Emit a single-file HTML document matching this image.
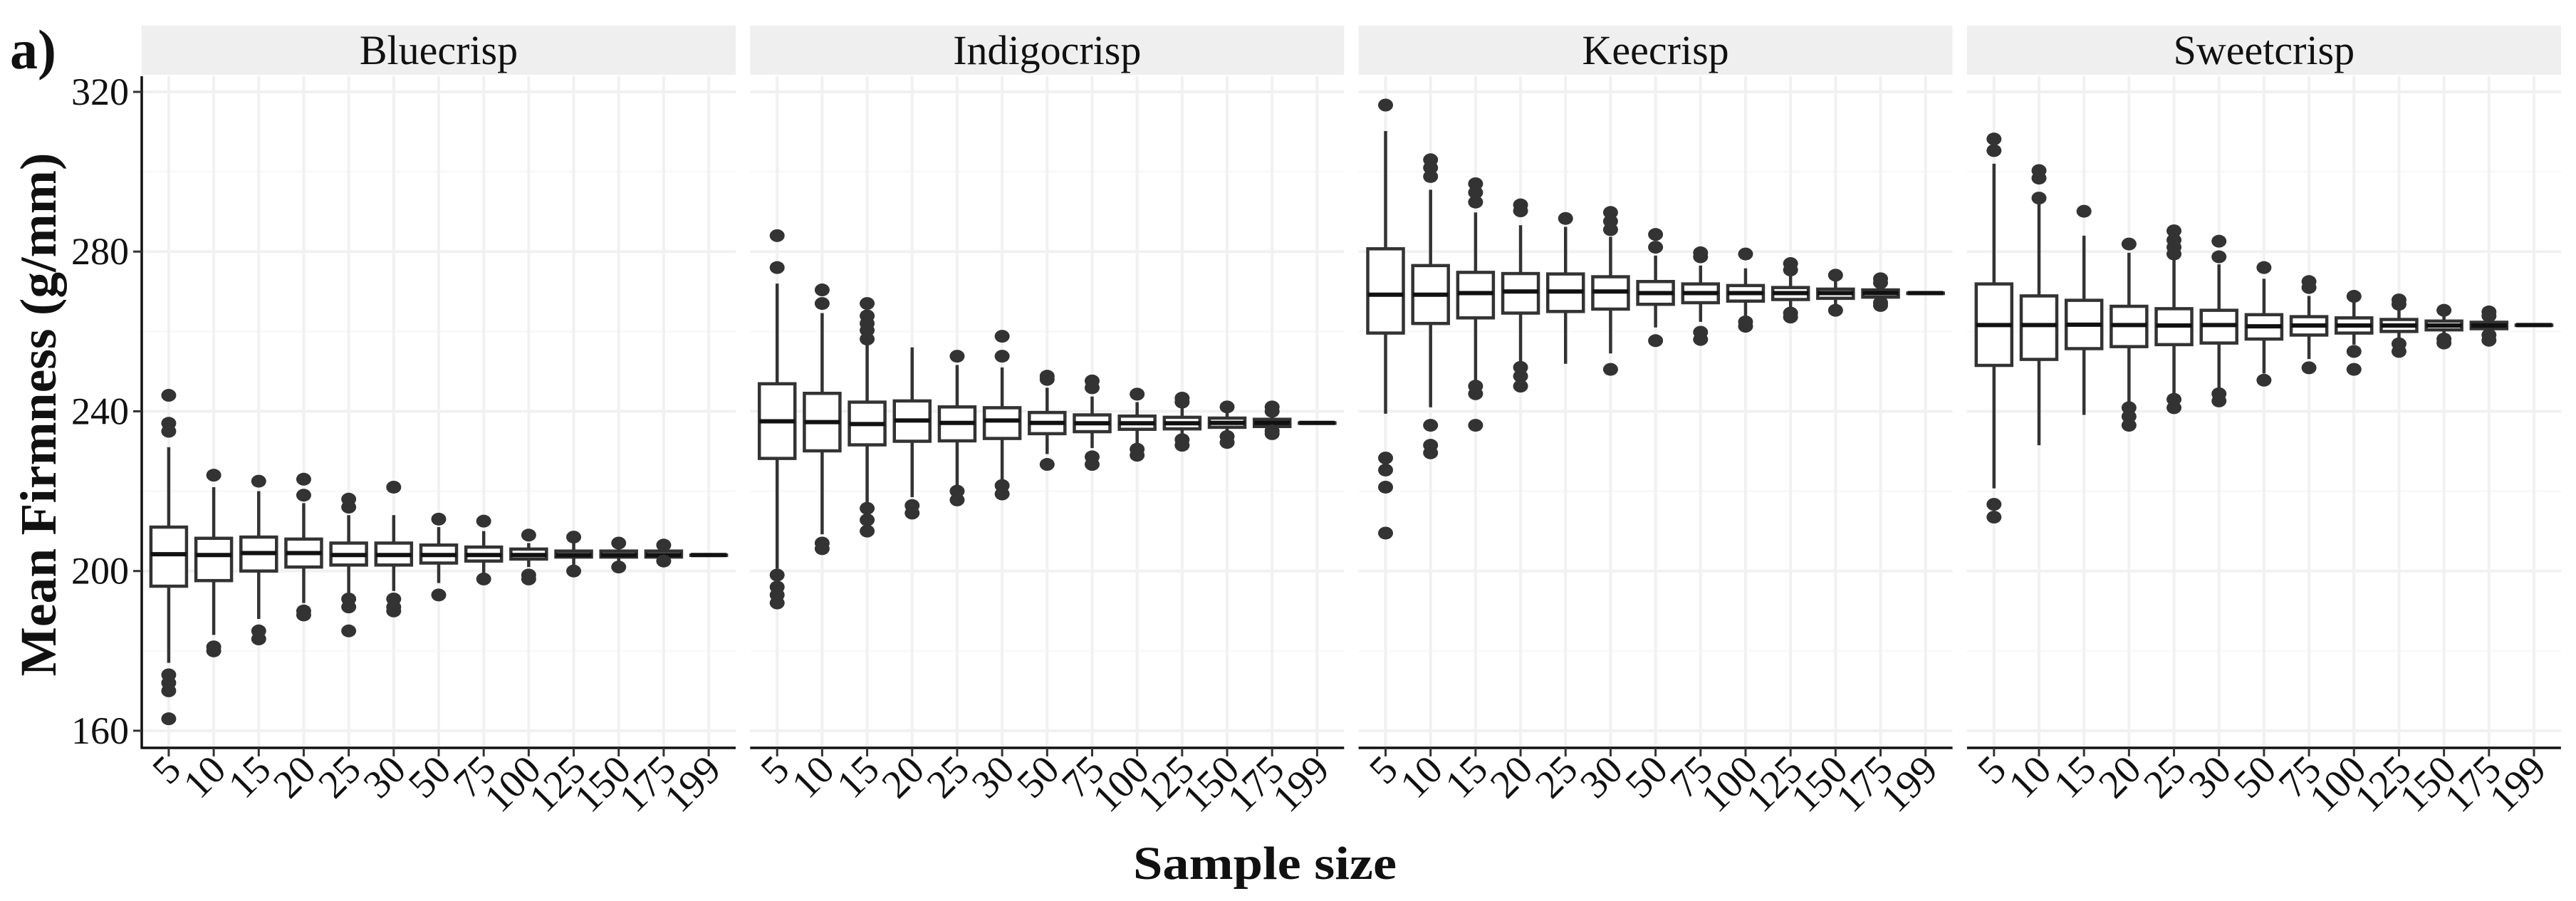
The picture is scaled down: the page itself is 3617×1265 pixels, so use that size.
<!DOCTYPE html>
<html><head><meta charset="utf-8"><style>
html,body{margin:0;padding:0;background:#fff}
svg{display:block}
text{font-family:"Liberation Serif",serif;fill:#111}
</style></head><body>
<svg id="chart" width="3617" height="1265" viewBox="0 0 3617 1265" xmlns="http://www.w3.org/2000/svg">
<text x="14" y="96" font-size="78" font-weight="bold">a)</text>
<text transform="translate(78,582) rotate(-90)" text-anchor="middle" font-size="72" font-weight="bold" textLength="735" lengthAdjust="spacingAndGlyphs">Mean Firmness (g/mm)</text>
<text x="1776" y="1234" text-anchor="middle" font-size="66" font-weight="bold" textLength="370" lengthAdjust="spacingAndGlyphs">Sample size</text>
<g id="plots"></g>
</svg>
<script>
const categories = ["5","10","15","20","25","30","50","75","100","125","150","175","199"];
const cultivars = ["Bluecrisp","Indigocrisp","Keecrisp","Sweetcrisp"];
const yTicks = [160,200,240,280,320];

const blueLo = [177,184,188,192,194,195,197,199,201,201.5,202,202.5,204];
const blueQ1 = [196.2,197.6,200,201,201.5,201.5,202,202.5,203,203.5,203.5,203.5,204];
const blueMed = [204.2,204,204.5,204.5,204,204,204,204,204,204,204,204,204];
const blueQ3 = [211,208.2,208.5,208,207,207,206.5,206,205.5,205,205,205,204];
const blueHi = [231,221,220,217,214,214,211,210,207,207,206,206,204];
const blueOut = [[244,237,235,174,172,170,163],[224,181,180],[222.5,185,183],[223,219,190,189],[218,216,193,191,185],[221,193,191,190],[213,194],[212.5,198],[209,199,198],[208.5,200],[207,201],[206.5,202.5],[]];

const indigoLo = [200.6,209.2,216.4,218.5,221.4,222.9,229.3,230.8,231.9,233,234,234.5,237.1];
const indigoQ1 = [228.2,230.1,231.6,232.5,232.6,233.2,234.4,234.9,235.5,235.6,236,236.2,237.1];
const indigoMed = [237.5,237.3,236.8,237.7,237.1,237.7,237.1,237,237,237,237.1,237.1,237.1];
const indigoQ3 = [246.9,244.5,242.3,242.6,241.1,240.9,239.7,239.1,238.8,238.5,238.3,238,237.1];
const indigoHi = [272,264.6,256.7,256,251.6,251,245.9,243.7,242.3,241,240,239.5,237.1];
const indigoOut = [[284,276,199,196,194,192],[270.4,267,207,205.6],[267,263.9,262,260.3,258.1,215.7,212.8,210],[216.4,214.5],[253.8,220,217.8],[258.8,253.8,221.4,219.3],[248.8,248,226.7],[247.6,245.9,228.6,226.7],[244.3,230.5,229],[243.3,242.3,232.9,231.5],[241.1,233.7,232.2],[241.1,240,235.1,234.4],[]];

const keeLo = [239.4,241,247.3,252.4,251.9,254.5,261,262.4,263.9,265,266,267,269.6];
const keeQ1 = [259.6,262,263.4,264.6,265,265.6,266.8,267.2,267.6,268,268.3,268.6,269.6];
const keeMed = [269.2,269.2,269.6,270,270,270,269.6,269.6,269.6,269.6,269.6,269.6,269.6];
const keeQ3 = [280.7,276.5,274.8,274.5,274.4,273.7,272.5,271.9,271.5,271,270.6,270.4,269.6];
const keeHi = [310.2,295.5,289.8,286.6,286.2,283.7,279,276.5,275.8,274,273,272,269.6];
const keeOut = [[316.7,228.3,225.3,221,209.5],[303,301,298.8,236.5,231.5,229.6],[297,294.8,292.4,246.3,244.4,236.5],[291.7,290.2,251,248.8,246.3],[288.3],[289.8,287.6,285.5,250.5],[284.3,281.1,257.7],[279.7,278.7,259.8,258],[279.4,262.4,261.3],[277,275.4,264.6,263.6],[274.1,265.3],[273.2,272.2,267.2,266.5],[]];

const sweetLo = [220.7,231.5,239.1,242.3,244,245.9,249.5,253.1,256.7,258,259,259.5,261.6];
const sweetQ1 = [251.5,253,255.7,256.2,256.7,257.1,258.1,259.1,259.6,260,260.4,260.7,261.6];
const sweetMed = [261.6,261.6,261.7,261.6,261.5,261.6,261.3,261.5,261.5,261.5,261.5,261.5,261.6];
const sweetQ3 = [271.9,268.9,267.8,266.3,265.7,265.3,264.2,263.7,263.4,263,262.6,262.3,261.6];
const sweetHi = [302,292,284,279.7,278.3,276.8,273.2,268.9,267.5,265.5,264.5,263.8,261.6];
const sweetOut = [[308.2,305.3,216.7,213.5],[300.3,298.4,293.4],[290.1],[281.9,240.9,238.7,236.5],[285.2,282.9,281.1,279.4,243,240.9],[282.6,278.7,244.4,242.6],[276,247.8],[272.5,271,250.9],[268.8,255,250.5],[267.9,266.8,256.9,255],[265.3,258.1,257.1],[264.9,263.9,259.1,257.8],[]];

const NS = "http://www.w3.org/2000/svg";
const root = document.getElementById("plots");
const PX0 = 199, PW = 834, PSTEP = 854.3, PTOP = 107, PBOT = 1050;
const step = PW / 13.2;
function yScale(v){ return 129 + (320 - v) * 5.606; }
function xScale(p, i){ return PX0 + p * PSTEP + (i + 0.6) * step; }
function mk(tag, attrs, parent){
  const e = document.createElementNS(NS, tag);
  for (const k in attrs) e.setAttribute(k, attrs[k]);
  (parent || root).appendChild(e);
  return e;
}
const series = [
  [blueLo,blueQ1,blueMed,blueQ3,blueHi,blueOut],
  [indigoLo,indigoQ1,indigoMed,indigoQ3,indigoHi,indigoOut],
  [keeLo,keeQ1,keeMed,keeQ3,keeHi,keeOut],
  [sweetLo,sweetQ1,sweetMed,sweetQ3,sweetHi,sweetOut]
];
const BW = 50, DARK = "#333";
cultivars.forEach((name, p) => {
  const left = PX0 + p * PSTEP, right = left + PW;
  const g = mk("g", {});
  
  
  const strip = mk("rect", {x:left, y:36, width:PW, height:69, fill:"#efefef"}, g);
  
  
  const st = mk("text", {x:left + PW/2, y:90, "text-anchor":"middle", "font-size":"58"}, g);
  st.textContent = name;
  
  
  [180,220,260,300].forEach(v => {
    const l = mk("line", {x1:left, x2:right, y1:yScale(v), y2:yScale(v), stroke:"#f9f9f9", "stroke-width":"3"}, g);
    
    
  });
  yTicks.forEach(v => {
    const l = mk("line", {x1:left, x2:right, y1:yScale(v), y2:yScale(v), stroke:"#f1f1f1", "stroke-width":"4"}, g);
    
    
  });
  categories.forEach((c, i) => {
    const l = mk("line", {x1:xScale(p,i), x2:xScale(p,i), y1:PTOP, y2:PBOT, stroke:"#f1f1f1", "stroke-width":"4"}, g);
    
    
  });
  const ax = mk("line", {x1:left, x2:right, y1:PBOT, y2:PBOT, stroke:"#111", "stroke-width":"3.5"}, g);
  
  
  if (p === 0) {
    const ay = mk("line", {x1:left, x2:left, y1:PTOP, y2:PBOT+1.5, stroke:"#111", "stroke-width":"3.5"}, g);
    
    
    yTicks.forEach(v => {
      const t = mk("line", {x1:left-12, x2:left, y1:yScale(v), y2:yScale(v), stroke:"#333", "stroke-width":"3"}, g);
      
      
      const tl = mk("text", {x:left-18, y:yScale(v)+18, "text-anchor":"end", "font-size":"54"}, g);
      tl.textContent = v;
      
      
    });
  }
  const [lo,q1,md,q3,hi,out] = series[p];
  categories.forEach((c, i) => {
    const x = xScale(p, i);
    const t = mk("line", {x1:x, x2:x, y1:PBOT, y2:PBOT+12, stroke:"#333", "stroke-width":"3"}, g);
    
    
    const tl = mk("text", {transform:"translate(" + (x+20) + ",1084) rotate(-45)", "text-anchor":"end", "font-size":"56"}, g);
    tl.textContent = c;
    
    
    const bg = mk("g", {}, g);
    
    
    const w1 = mk("line", {x1:x, x2:x, y1:yScale(hi[i]), y2:yScale(q3[i]), stroke:DARK, "stroke-width":"4.5"}, bg);
    
    
    const w2 = mk("line", {x1:x, x2:x, y1:yScale(q1[i]), y2:yScale(lo[i]), stroke:DARK, "stroke-width":"4.5"}, bg);
    
    
    const r = mk("rect", {x:x-BW/2, y:yScale(q3[i]), width:BW, height:Math.max(0.5, yScale(q1[i])-yScale(q3[i])), fill:"#fff", stroke:DARK, "stroke-width":"4.5"}, bg);
    
    
    const m = mk("line", {x1:x-BW/2, x2:x+BW/2, y1:yScale(md[i]), y2:yScale(md[i]), stroke:"#111", "stroke-width":"6"}, bg);
    
    
    out[i].forEach(v => {
      const o = mk("ellipse", {cx:x, cy:yScale(v), rx:10.5, ry:9, fill:DARK}, bg);
      
      
    });
  });
});
</script>
</body></html>
